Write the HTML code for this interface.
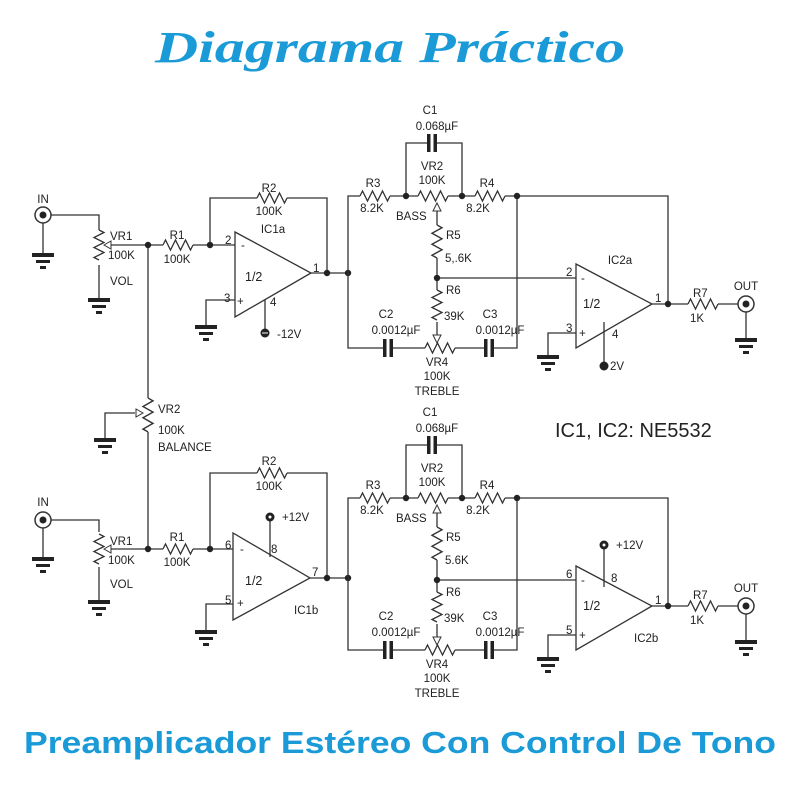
<!DOCTYPE html>
<html><head><meta charset="utf-8"><style>
html,body{margin:0;padding:0;background:#fff}
svg{display:block}
text{font-family:"Liberation Sans",sans-serif;font-size:11.5px;fill:#222}
</style></head><body>
<svg width="800" height="800" viewBox="0 0 800 800" xmlns="http://www.w3.org/2000/svg">
<defs>
<path id="rh" d="M0 0 l2.5 -5 l5 10 l5 -10 l5 10 l5 -10 l5 10 l2.5 -5" fill="none" stroke="#333" stroke-width="1.3"/>
<g id="gnd" fill="#222"><rect x="-11" y="0" width="22" height="4"/><rect x="-7" y="7" width="14" height="3"/><rect x="-3" y="13" width="6" height="3"/></g>
<g id="capv" fill="#222"><rect x="-5" y="-9" width="3.5" height="18"/><rect x="1.5" y="-9" width="3.5" height="18"/></g>
<g id="dot"><circle r="3.2" fill="#222"/></g>
<g id="jack"><circle r="8" fill="#fff" stroke="#333" stroke-width="1.5"/><circle r="3.5" fill="#222"/></g>
</defs>
<text x="390" y="62" text-anchor="middle" style="font-family:'Liberation Serif',serif;font-size:44px;font-weight:bold;font-style:italic;fill:#1a9ad6" textLength="470" lengthAdjust="spacingAndGlyphs">Diagrama Práctico</text>
<text x="400" y="753" text-anchor="middle" style="font-size:31px;font-weight:bold;fill:#1a9ad6" textLength="752" lengthAdjust="spacingAndGlyphs">Preamplicador Estéreo Con Control De Tono</text>

<g stroke="#333" stroke-width="1.3" fill="none">
<polyline points="51,215 99,215 99,230"/>
<line x1="43" y1="223" x2="43" y2="253"/>
<polyline points="99,265 99,298"/>
<polyline points="110,245 163,245"/>
<polyline points="193,245 235,245"/>
<polyline points="210,245 210,198 257,198"/>
<polyline points="287,198 327,198 327,273"/>
<polyline points="311,273 348,273"/>
<polyline points="235,300 206,300 206,325"/>
<line x1="265" y1="300" x2="265" y2="330"/>
<line x1="148" y1="245" x2="148" y2="398"/>
<line x1="148" y1="432" x2="148" y2="549"/>
<polyline points="135,413 105,413 105,438"/>
<polygon points="235,232 235,317 311,273"/>
<polyline points="51,520 99,520 99,532"/>
<line x1="43" y1="528" x2="43" y2="557"/>
<polyline points="99,567 99,600"/>
<polyline points="110,549 163,549"/>
<polyline points="193,549 233,549"/>
<polyline points="210,549 210,473 257,473"/>
<polyline points="287,473 327,473 327,578"/>
<polyline points="310,578 348,578"/>
<polyline points="233,604 206,604 206,630"/>
<line x1="270" y1="520" x2="270" y2="557"/>
<polygon points="233,533 233,620 310,578"/>
</g>
<use href="#rh" x="163" y="245"/>
<use href="#rh" x="257" y="198"/>
<use href="#rh" x="163" y="549"/>
<use href="#rh" x="257" y="473"/>
<use href="#rh" transform="translate(99,230) rotate(90)"/>
<use href="#rh" transform="translate(99,534) rotate(90)"/>
<use href="#rh" transform="translate(148,398) rotate(90) scale(1.13,1)"/>
<polygon points="104,245 111,241 111,249" fill="#fff" stroke="#333"/>
<polygon points="104,549 111,545 111,553" fill="#fff" stroke="#333"/>
<polygon points="143,413 136,409 136,417" fill="#fff" stroke="#333"/>
<use href="#jack" x="43" y="215"/><use href="#jack" x="43" y="520"/>
<use href="#gnd" x="43" y="253"/><use href="#gnd" x="99" y="298"/><use href="#gnd" x="206" y="325"/><use href="#gnd" x="105" y="438"/>
<use href="#gnd" x="43" y="557"/><use href="#gnd" x="99" y="600"/><use href="#gnd" x="206" y="630"/>
<use href="#dot" x="148" y="245"/><use href="#dot" x="210" y="245"/><use href="#dot" x="327" y="273"/><use href="#dot" x="348" y="273"/>
<use href="#dot" x="148" y="549"/><use href="#dot" x="210" y="549"/><use href="#dot" x="327" y="578"/><use href="#dot" x="348" y="578"/>
<circle cx="265" cy="333" r="4.5" fill="#222"/><line x1="262" y1="333" x2="268" y2="333" stroke="#fff"/>
<circle cx="270" cy="517" r="4.5" fill="#222"/><circle cx="270" cy="517" r="1.5" fill="#fff"/>
<text x="43" y="203" text-anchor="middle">IN</text>
<text x="110" y="240">VR1</text><text x="108" y="259">100K</text><text x="110" y="285">VOL</text>
<text x="177" y="239" text-anchor="middle">R1</text><text x="177" y="263" text-anchor="middle">100K</text>
<text x="269" y="192" text-anchor="middle">R2</text><text x="269" y="215" text-anchor="middle">100K</text>
<text x="273" y="233" text-anchor="middle">IC1a</text>
<text x="225" y="244">2</text><text x="241" y="249">-</text><text x="224" y="302">3</text><text x="237" y="305">+</text>
<text x="245" y="281" style="font-size:12.5px">1/2</text><text x="270" y="306">4</text><text x="313" y="272">1</text><text x="277" y="338">-12V</text>
<text x="158" y="413">VR2</text><text x="158" y="434">100K</text><text x="158" y="451">BALANCE</text>
<text x="43" y="506" text-anchor="middle">IN</text>
<text x="110" y="545">VR1</text><text x="108" y="564">100K</text><text x="110" y="588">VOL</text>
<text x="177" y="541" text-anchor="middle">R1</text><text x="177" y="566" text-anchor="middle">100K</text>
<text x="269" y="465" text-anchor="middle">R2</text><text x="269" y="490" text-anchor="middle">100K</text>
<text x="225" y="549">6</text><text x="240" y="553">-</text><text x="225" y="604">5</text><text x="237" y="607">+</text>
<text x="245" y="585" style="font-size:12.5px">1/2</text><text x="271" y="553">8</text><text x="312" y="576">7</text>
<text x="282" y="521">+12V</text><text x="294" y="614">IC1b</text>
<text x="555" y="437" style="font-size:20px">IC1, IC2: NE5532</text>

<g id="tone">
<g stroke="#333" stroke-width="1.3" fill="none">
<polyline points="348,273 348,196 360,196"/>
<line x1="390" y1="196" x2="418" y2="196"/>
<line x1="448" y1="196" x2="475" y2="196"/>
<polyline points="505,196 668,196 668,304"/>
<polyline points="406,196 406,143 428,143"/>
<polyline points="436,143 462,143 462,196"/>
<line x1="437" y1="210" x2="437" y2="225"/>
<line x1="437" y1="258" x2="437" y2="290"/>
<line x1="437" y1="322" x2="437" y2="336"/>
<polyline points="348,273 348,348 384,348"/>
<line x1="391" y1="348" x2="425" y2="348"/>
<line x1="455" y1="348" x2="485" y2="348"/>
<polyline points="492,348 517,348 517,196"/>
<line x1="437" y1="278" x2="576" y2="278"/>
<polyline points="576,333 548,333 548,355"/>
<line x1="652" y1="304" x2="688" y2="304"/>
<line x1="718" y1="304" x2="738" y2="304"/>
<line x1="746" y1="312" x2="746" y2="338"/>
<polygon points="576,264 576,348 652,304"/>
</g>
<use href="#rh" x="360" y="196"/><use href="#rh" x="418" y="196"/><use href="#rh" x="475" y="196"/>
<use href="#rh" x="425" y="348"/><use href="#rh" x="688" y="304"/>
<use href="#rh" transform="translate(437,225) rotate(90) scale(1.1,1)"/>
<use href="#rh" transform="translate(437,290) rotate(90)"/>
<use href="#capv" x="432" y="143"/><use href="#capv" x="388" y="348"/><use href="#capv" x="489" y="348"/>
<polygon points="437,203 433,211 441,211" fill="#fff" stroke="#333"/>
<polygon points="437,343 433,335 441,335" fill="#fff" stroke="#333"/>
<use href="#dot" x="406" y="196"/><use href="#dot" x="462" y="196"/><use href="#dot" x="517" y="196"/>
<use href="#dot" x="437" y="278"/><use href="#dot" x="668" y="304"/>
<use href="#jack" x="746" y="304"/><use href="#gnd" x="548" y="355"/><use href="#gnd" x="746" y="338"/>
<text x="430" y="114" text-anchor="middle">C1</text><text x="437" y="130" text-anchor="middle">0.068µF</text>
<text x="432" y="170" text-anchor="middle">VR2</text><text x="432" y="184" text-anchor="middle">100K</text>
<text x="373" y="187" text-anchor="middle">R3</text><text x="372" y="212" text-anchor="middle">8.2K</text>
<text x="487" y="187" text-anchor="middle">R4</text><text x="478" y="212" text-anchor="middle">8.2K</text>
<text x="386" y="318" text-anchor="middle">C2</text><text x="490" y="318" text-anchor="middle">C3</text>
<text x="437" y="366" text-anchor="middle">VR4</text><text x="437" y="380" text-anchor="middle">100K</text><text x="437" y="395" text-anchor="middle">TREBLE</text>
<text x="583" y="308" style="font-size:12.5px">1/2</text>
<text x="693" y="297">R7</text><text x="690" y="322">1K</text><text x="746" y="290" text-anchor="middle">OUT</text>
<text x="655" y="302">1</text>
<text x="396" y="220">BASS</text>
<text x="396" y="334" text-anchor="middle">0.0012µF</text><text x="500" y="334" text-anchor="middle">0.0012µF</text>
<text x="446" y="294">R6</text><text x="444" y="320">39K</text><text x="446" y="239">R5</text>
</g>
<text x="445" y="262">5,.6K</text>
<text x="620" y="264" text-anchor="middle">IC2a</text>
<text x="566" y="276">2</text><text x="581" y="282">-</text><text x="566" y="332">3</text><text x="579" y="337">+</text>
<text x="612" y="338">4</text>
<line x1="604" y1="322" x2="604" y2="362" stroke="#333" stroke-width="1.3"/>
<circle cx="604" cy="366" r="4.5" fill="#222"/><text x="610" y="370">2V</text>

<use href="#tone" transform="translate(0,302)"/>
<text x="445" y="564">5.6K</text>
<text x="566" y="578">6</text><text x="581" y="584">-</text><text x="566" y="634">5</text><text x="579" y="639">+</text>
<text x="611" y="582">8</text>
<line x1="604" y1="548" x2="604" y2="587" stroke="#333" stroke-width="1.3"/>
<circle cx="604" cy="545" r="4.5" fill="#222"/><circle cx="604" cy="545" r="1.5" fill="#fff"/>
<text x="616" y="549">+12V</text>
<text x="634" y="642">IC2b</text>
</svg>
</body></html>
